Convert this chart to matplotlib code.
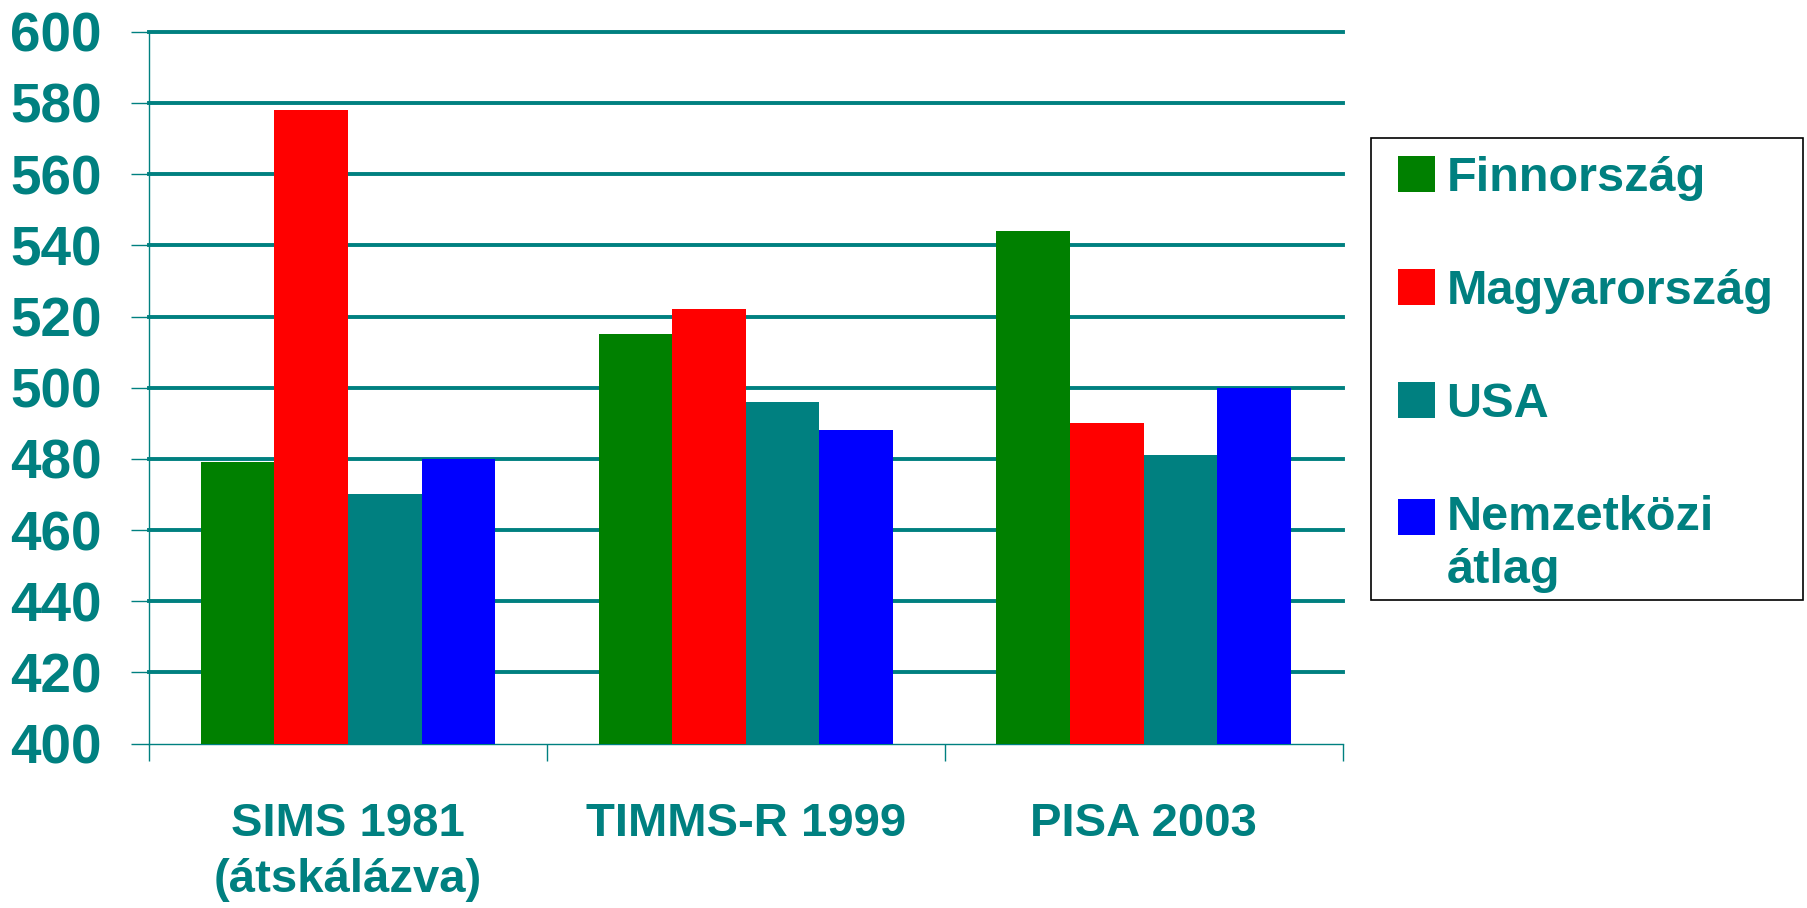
import numpy as np
import matplotlib
matplotlib.use('Agg')
import matplotlib.pyplot as plt
from matplotlib.patches import Rectangle

plt.rcParams['font.family'] = ['Liberation Sans', 'DejaVu Sans']
plt.rcParams['font.weight'] = 'bold'

categories = ['SIMS 1981\n(átskálázva)', 'TIMMS-R 1999', 'PISA 2003']
series = ['Finnország', 'Magyarország', 'USA', 'Nemzetközi\nátlag']
finn = [479, 515, 544]
magyar = [578, 522, 490]
usa = [470, 496, 481]
nemz = [480, 488, 500]
colors = ['#008000', '#FF0000', '#008080', '#0000FF']

teal = '#008080'

fig = plt.figure(figsize=(18.07, 9.08), dpi=100)
ax = fig.add_axes([0.0825, 0.181, 0.743 - 0.0825, 0.965 - 0.181])

x = np.arange(len(categories))
w = 0.185
vals = [finn, magyar, usa, nemz]
for i, v in enumerate(vals):
    ax.bar(x + (i - 1.5) * w, np.array(v) - 400, bottom=400, width=w,
           color=colors[i], label=series[i], zorder=3)

ax.set_ylim(400, 600)
ax.set_xlim(-0.5, 2.5)
ax.set_yticks(np.arange(400, 601, 20))
# gridlines by hand so the top one is not clipped
for yv in np.arange(420, 601, 20):
    ax.axhline(yv, color=teal, linewidth=2.8, zorder=1, clip_on=False)

ax.set_xticks(x)
ax.set_xticklabels(categories, fontsize=34, color=teal, fontweight='bold',
                   linespacing=1.34, va='top')
ax.set_xticks([-0.5, 0.5, 1.5, 2.5], minor=True)
ax.tick_params(axis='x', which='major', length=0, pad=42)
ax.tick_params(axis='x', which='minor', length=12, width=1, color=teal, direction='out')
ax.tick_params(axis='y', length=13, width=1, color=teal, pad=21,
               labelsize=39.5, labelcolor=teal)
for lb in ax.get_yticklabels():
    lb.set_fontweight('bold')

for s in ['top', 'right']:
    ax.spines[s].set_visible(False)
ax.spines['left'].set_color(teal)
ax.spines['left'].set_linewidth(1)
ax.spines['bottom'].set_color(teal)
ax.spines['bottom'].set_linewidth(1)

leg = fig.legend(loc='upper left', bbox_to_anchor=(1371 / 1807, 1 - 129 / 908),
                 fontsize=35, frameon=False,
                 handlelength=0.76, handleheight=0.76, handletextpad=0.24,
                 labelspacing=1.4, borderpad=0.55, borderaxespad=0)
for t in leg.get_texts():
    t.set_color(teal)
    t.set_fontweight('bold')
    t.set_linespacing(1.23)
# put the last handle at the first line of its two-line label
h = leg.legend_handles[-1]
h.set_y(h.get_y() + 20)

# legend frame
fig.patches.append(Rectangle((1371 / 1807, 1 - 600 / 908), 432 / 1807, 462 / 908,
                             transform=fig.transFigure, fill=False,
                             edgecolor='black', linewidth=1.2))

fig.savefig('out.png', dpi=100)
